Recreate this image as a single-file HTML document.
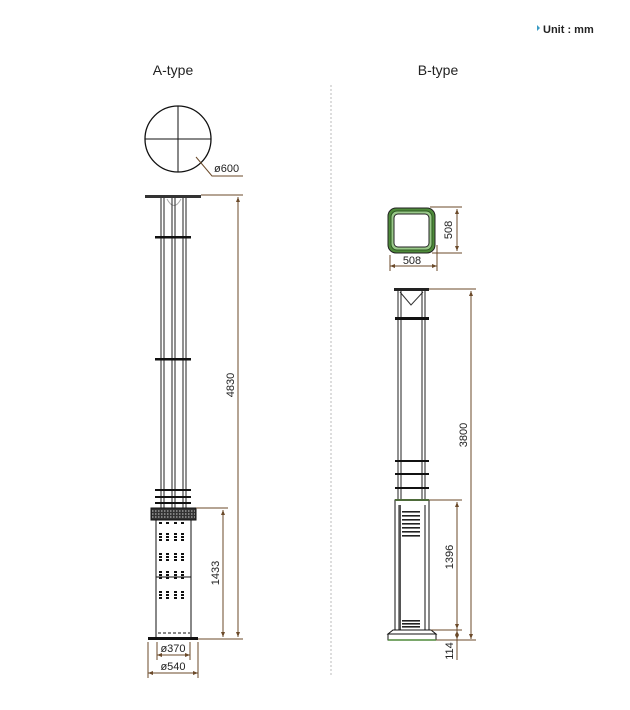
<!DOCTYPE html>
<html><head><meta charset="utf-8"><style>
html,body{margin:0;padding:0;background:#fff;width:630px;height:710px;overflow:hidden}
svg{display:block}
text{font-family:"Liberation Sans",sans-serif;fill:#222}
</style></head><body>
<svg width="630" height="710" viewBox="0 0 630 710" xmlns="http://www.w3.org/2000/svg">
<polygon points="537,25 537,31 540,28" fill="#3a9bc4"/>
<text x="543" y="33" font-size="11" font-weight="bold" fill="#333">Unit : mm</text>
<text x="173" y="75" font-size="14" text-anchor="middle">A-type</text>
<text x="438" y="75" font-size="14" text-anchor="middle">B-type</text>
<line x1="331" y1="85" x2="331" y2="675" stroke="#bbb" stroke-dasharray="2,2"/>

<circle cx="178" cy="139" r="33" fill="none" stroke="#111" stroke-width="1.3"/>
<line x1="145" y1="139" x2="211" y2="139" stroke="#111"/>
<line x1="178" y1="106" x2="178" y2="172" stroke="#111"/>
<polyline points="196,157 212,176 243,176" fill="none" stroke="#6b4a2a"/>
<text x="214" y="172" font-size="11">ø600</text>

<rect x="145" y="195" width="56" height="3" fill="#333"/>
<path d="M167,199 Q174,212 181,199" fill="none" stroke="#aaa"/>
<g stroke="#222" stroke-width="1">
<line x1="161" y1="198" x2="161" y2="508"/><line x1="164" y1="198" x2="164" y2="508"/>
<line x1="172" y1="198" x2="172" y2="508"/><line x1="175" y1="198" x2="175" y2="508"/>
<line x1="183" y1="198" x2="183" y2="508"/><line x1="186" y1="198" x2="186" y2="508"/>
</g>
<rect x="155" y="236" width="36" height="2.5" fill="#111"/>
<rect x="155" y="358" width="36" height="2.5" fill="#111"/>
<rect x="155" y="489" width="36" height="2" fill="#111"/>
<rect x="155" y="496" width="36" height="2" fill="#111"/>
<rect x="155" y="502" width="36" height="2" fill="#111"/>
<rect x="151" y="508" width="45" height="12" fill="#333" stroke="#111"/>
<g stroke="#ccc" stroke-dasharray="1.5,1.5"><line x1="152" y1="511" x2="195" y2="511"/><line x1="152" y1="514" x2="195" y2="514"/><line x1="152" y1="517" x2="195" y2="517"/></g>
<rect x="156" y="520" width="35" height="118" fill="#fff" stroke="#111"/>
<line x1="156" y1="577" x2="191" y2="577" stroke="#111"/>
<g fill="#111">
<g id="vr"><rect x="159" y="533" width="3" height="2"/><rect x="159" y="536" width="3" height="2"/><rect x="159" y="539" width="3" height="2"/>
<rect x="166" y="533" width="3" height="2"/><rect x="166" y="536" width="3" height="2"/><rect x="166" y="539" width="3" height="2"/>
<rect x="174" y="533" width="3" height="2"/><rect x="174" y="536" width="3" height="2"/><rect x="174" y="539" width="3" height="2"/>
<rect x="181" y="533" width="3" height="2"/><rect x="181" y="536" width="3" height="2"/><rect x="181" y="539" width="3" height="2"/></g>
<use href="#vr" y="20"/><use href="#vr" y="38"/><use href="#vr" y="58"/>
<rect x="159" y="522" width="3" height="2"/><rect x="166" y="522" width="3" height="2"/><rect x="174" y="522" width="3" height="2"/><rect x="181" y="522" width="3" height="2"/>
</g>
<line x1="158" y1="633" x2="190" y2="633" stroke="#111" stroke-dasharray="3,2"/>
<rect x="148" y="637" width="50" height="3" fill="#111"/>

<g stroke="#6b4a2a" fill="none">
<line x1="201" y1="195" x2="243" y2="195"/><line x1="198" y1="639" x2="243" y2="639"/>
<line x1="238" y1="197" x2="238" y2="637"/>
<line x1="196" y1="508" x2="228" y2="508"/>
<line x1="223" y1="510" x2="223" y2="637"/>
<line x1="157" y1="642" x2="157" y2="660"/><line x1="190" y1="642" x2="190" y2="660"/>
<line x1="157" y1="655" x2="190" y2="655"/>
<line x1="148" y1="642" x2="148" y2="678"/><line x1="198" y1="642" x2="198" y2="678"/>
<line x1="148" y1="673" x2="198" y2="673"/>
</g>
<g fill="#6b4a2a">
<polygon points="238,197 236,202 240,202"/><polygon points="238,637 236,632 240,632"/>
<polygon points="223,510 221,515 225,515"/><polygon points="223,637 221,632 225,632"/>
<polygon points="157,655 162,653 162,657"/><polygon points="190,655 185,653 185,657"/>
<polygon points="148,673 153,671 153,675"/><polygon points="198,673 193,671 193,675"/>
</g>
<text transform="translate(234,385) rotate(-90)" font-size="11" text-anchor="middle">4830</text>
<text transform="translate(219,573) rotate(-90)" font-size="11" text-anchor="middle">1433</text>
<text x="173" y="652" font-size="11" text-anchor="middle">ø370</text>
<text x="173" y="670" font-size="11" text-anchor="middle">ø540</text>

<rect x="388" y="208" width="47" height="45" rx="8" fill="#4e8a3a" stroke="#222"/>
<rect x="391" y="211" width="41" height="39" rx="6" fill="#9ac98a" stroke="#2d5a22"/>
<rect x="394" y="214" width="35" height="33" rx="4" fill="#fff" stroke="#222"/>
<g stroke="#6b4a2a" fill="none">
<line x1="430" y1="207" x2="462" y2="207"/><line x1="432" y1="253" x2="462" y2="253"/>
<line x1="457" y1="209" x2="457" y2="251"/>
<line x1="390" y1="255" x2="390" y2="271"/><line x1="437" y1="245" x2="437" y2="271"/>
<line x1="390" y1="266" x2="437" y2="266"/>
</g>
<g fill="#6b4a2a">
<polygon points="457,209 455,214 459,214"/><polygon points="457,251 455,246 459,246"/>
<polygon points="390,266 395,264 395,268"/><polygon points="437,266 432,264 432,268"/>
</g>
<text transform="translate(452,230) rotate(-90)" font-size="11" text-anchor="middle">508</text>
<text x="412" y="264" font-size="11" text-anchor="middle">508</text>

<rect x="394" y="288" width="35" height="3" fill="#222"/>
<polyline points="400,292 411,305 423,292" fill="none" stroke="#333"/>
<g stroke="#222">
<line x1="398" y1="291" x2="398" y2="500"/><line x1="401" y1="291" x2="401" y2="500"/>
<line x1="422" y1="291" x2="422" y2="500"/><line x1="425" y1="291" x2="425" y2="500"/>
</g>
<rect x="395" y="317" width="34" height="3" fill="#111"/>
<rect x="395" y="460" width="34" height="2" fill="#111"/>
<rect x="395" y="473" width="34" height="2" fill="#111"/>
<rect x="395" y="487" width="34" height="2" fill="#111"/>
<rect x="395" y="500" width="34" height="130" fill="#fff" stroke="#111"/>
<line x1="395" y1="500" x2="429" y2="500" stroke="#4e6b3a" stroke-width="2"/>
<line x1="399" y1="505" x2="399" y2="630" stroke="#111"/><line x1="425" y1="505" x2="425" y2="630" stroke="#111"/>
<rect x="399" y="505" width="2" height="125" fill="#555"/>
<g fill="#222">
<rect x="402" y="511" width="18" height="1.6"/><rect x="402" y="515" width="18" height="1.6"/><rect x="402" y="519" width="18" height="1.6"/><rect x="402" y="523" width="18" height="1.6"/><rect x="402" y="527" width="18" height="1.6"/><rect x="402" y="531" width="18" height="1.6"/><rect x="402" y="535" width="18" height="1.6"/>
<rect x="402" y="620" width="18" height="1.6"/><rect x="402" y="623" width="18" height="1.6"/><rect x="402" y="626" width="18" height="1.6"/>
</g>
<polygon points="393,630 431,630 436,634 388,634" fill="#fff" stroke="#111"/>
<rect x="388" y="634" width="48" height="6" fill="#fff" stroke="#111"/>
<line x1="388" y1="640" x2="436" y2="640" stroke="#4e8a3a" stroke-width="1.5"/>

<g stroke="#6b4a2a" fill="none">
<line x1="429" y1="289" x2="476" y2="289"/>
<line x1="471" y1="291" x2="471" y2="639"/>
<line x1="436" y1="640" x2="476" y2="640"/>
<line x1="429" y1="500" x2="462" y2="500"/>
<line x1="457" y1="502" x2="457" y2="660"/>
<line x1="431" y1="630" x2="462" y2="630"/>
</g>
<g fill="#6b4a2a">
<polygon points="471,291 469,296 473,296"/><polygon points="471,639 469,634 473,634"/>
<polygon points="457,502 455,507 459,507"/><polygon points="457,629 455,624 459,624"/>
<polygon points="457,631 455,635 459,635"/><polygon points="457,639 455,635 459,635"/>
</g>
<text transform="translate(467,435) rotate(-90)" font-size="11" text-anchor="middle">3800</text>
<text transform="translate(453,557) rotate(-90)" font-size="11" text-anchor="middle">1396</text>
<text transform="translate(453,651) rotate(-90)" font-size="11" text-anchor="middle">114</text>
</svg>
</body></html>
